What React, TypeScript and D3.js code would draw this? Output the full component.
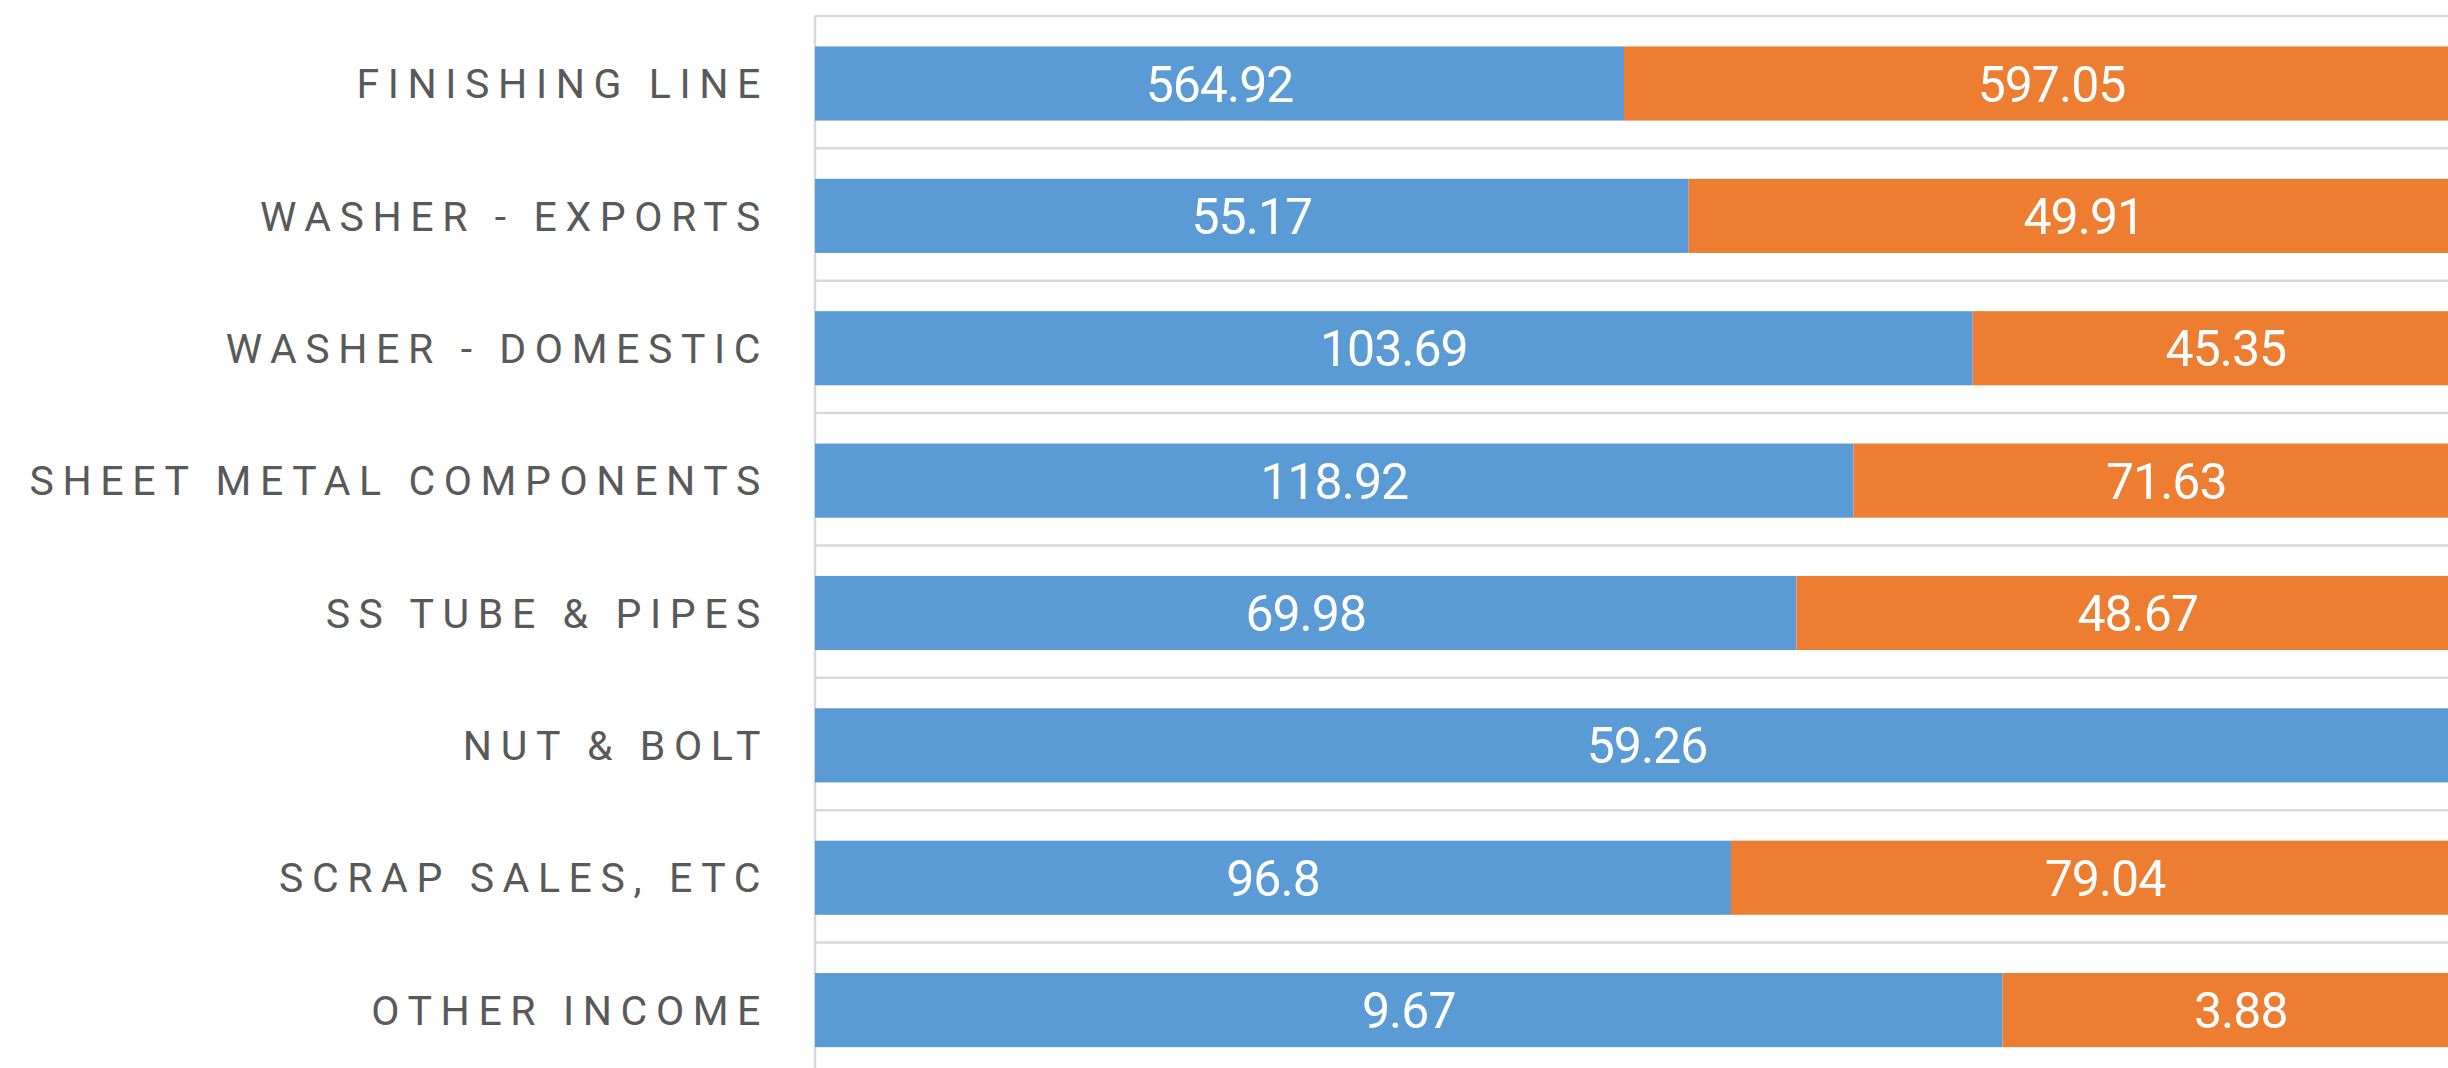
import React from "react";
import * as d3 from "d3";

const categories = [
  "FINISHING LINE",
  "WASHER - EXPORTS",
  "WASHER - DOMESTIC",
  "SHEET METAL COMPONENTS",
  "SS TUBE & PIPES",
  "NUT & BOLT",
  "SCRAP SALES, ETC",
  "OTHER INCOME",
];
const seriesA = [564.92, 55.17, 103.69, 118.92, 69.98, 59.26, 96.8, 9.67];
const seriesB = [597.05, 49.91, 45.35, 71.63, 48.67, 0, 79.04, 3.88];
const seriesColors = ["#5B9BD5", "#ED7D31"];

const W = 2448;
const H = 1068;
const left = 815;
const right = 2479;
const top = 16;
const step = 132.7;

export default function App() {
  const y = d3
    .scaleBand<string>()
    .domain(categories)
    .range([top, top + step * categories.length])
    .paddingInner(0.44)
    .paddingOuter(0.23);
  const x = d3.scaleLinear().domain([0, 1]).range([left, right]);

  const rows = categories.map((c, i) => {
    const vals = [seriesA[i], seriesB[i]];
    const total = d3.sum(vals);
    let acc = 0;
    const segs = vals.map((v, k) => {
      const x0 = acc / total;
      acc += v;
      return { v, k, x0, x1: acc / total };
    });
    return { c, segs };
  });

  const gridYs = d3.range(categories.length + 1).map((i) => top + i * y.step());

  return (
    <svg
      width={W}
      height={H}
      style={{ position: "absolute", left: 0, top: 0, background: "#fff" }}
    >
      {gridYs.map((gy, i) => (
        <line key={i} x1={left} x2={W} y1={gy} y2={gy} stroke="#D9D9D9" strokeWidth={2.5} />
      ))}
      <line x1={left} x2={left} y1={top} y2={H} stroke="#D9D9D9" strokeWidth={2.5} />
      {rows.map((r) => {
        const by = y(r.c)!;
        const bh = y.bandwidth();
        const cy = by + bh / 2;
        return (
          <g key={r.c}>
            {r.segs.map((s) => (
              <rect
                key={s.k}
                x={x(s.x0)}
                y={by}
                width={Math.max(0, x(s.x1) - x(s.x0))}
                height={bh}
                fill={seriesColors[s.k]}
              />
            ))}
            {r.segs
              .filter((s) => s.v > 0)
              .map((s) => (
                <text
                  key={"t" + s.k}
                  x={(x(s.x0) + x(s.x1)) / 2}
                  y={cy}
                  dy="0.36em"
                  textAnchor="middle"
                  fill="#fff"
                  fontFamily="Roboto, 'Liberation Sans', sans-serif"
                  fontSize={50}
                  style={{ letterSpacing: "-1px" }}
                >
                  {String(s.v)}
                </text>
              ))}
            <text
              x={769}
              y={cy}
              dy="0.36em"
              textAnchor="end"
              fill="#595959"
              fontFamily="Roboto, 'Liberation Sans', sans-serif"
              fontSize={41}
              style={{ letterSpacing: "8.6px" }}
            >
              {r.c}
            </text>
          </g>
        );
      })}
    </svg>
  );
}
